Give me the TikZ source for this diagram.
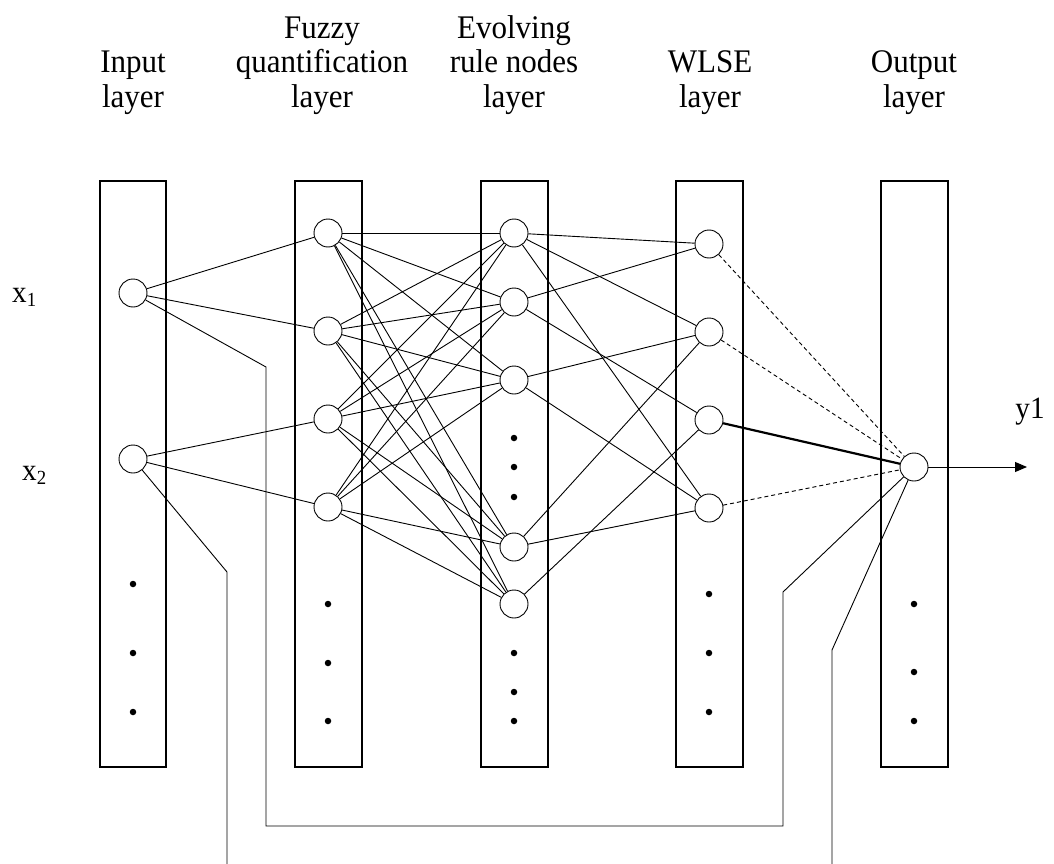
\documentclass[tikz,border=0pt]{standalone}
\usepackage{fontspec}
\setmainfont{Liberation Serif}
\newfontfamily\hdrfont[FakeStretch=0.94]{Liberation Serif}
\usetikzlibrary{arrows.meta}
\newcommand{\mysubs}[1]{\raisebox{-4.5pt}{\fontsize{20}{20}\selectfont #1}}
\tikzset{
  layerbox/.style={draw, line width=1.1pt},
  neuron/.style={draw, circle, minimum size=28pt, inner sep=0pt, line width=0.9pt, fill=white},
  dotmark/.style={fill, circle, inner sep=0pt, minimum size=6.5pt},
  conn/.style={line width=0.9pt},
  dashconn/.style={line width=0.9pt, dash pattern=on 4pt off 3pt},
  thickconn/.style={line width=2.2pt},
  hdr/.style={align=center, font=\hdrfont\fontsize{33}{35}\selectfont, inner sep=0pt},
  lbl/.style={font=\hdrfont\fontsize{31}{31}\selectfont, inner sep=0pt},
}
\begin{document}
\begin{tikzpicture}[x=1pt,y=-1pt]
\useasboundingbox (0,0) rectangle (1054,864);
% layer boxes
\draw[layerbox] (100,181) rectangle (166,767);
\draw[layerbox] (295,181) rectangle (362,767);
\draw[layerbox] (481,181) rectangle (548,767);
\draw[layerbox] (676,181) rectangle (743,767);
\draw[layerbox] (881,181) rectangle (948,767);
% headers (base anchor = baseline of last line)
\node[hdr, anchor=base] (hIn) at (133,108) {Input\\layer};
\node[hdr, anchor=base] (hFz) at (322,108) {Fuzzy\\quantification\\layer};
\node[hdr, anchor=base] (hEv) at (514,108) {Evolving\\rule nodes\\layer};
\node[hdr, anchor=base] (hWl) at (710,108) {WLSE\\layer};
\node[hdr, anchor=base] (hOu) at (914,108) {Output\\layer};
% feedback coordinates
\coordinate (fa1) at (266,367);
\coordinate (fa2) at (266,826);
\coordinate (fa3) at (783,826);
\coordinate (fa4) at (783,592);
\coordinate (fb1) at (227,572);
\coordinate (fb2) at (227,864);
\coordinate (fc1) at (832,650);
\coordinate (fc2) at (832,864);
% nodes
\node[neuron] (I1) at (133,293) {};
\node[neuron] (I2) at (133,459) {};
\node[neuron] (F1) at (328,233) {};
\node[neuron] (F2) at (328,331) {};
\node[neuron] (F3) at (328,419) {};
\node[neuron] (F4) at (328,507) {};
\node[neuron] (E1) at (514,233) {};
\node[neuron] (E2) at (514,302) {};
\node[neuron] (E3) at (514,380) {};
\node[neuron] (E4) at (514,547) {};
\node[neuron] (E5) at (514,604) {};
\node[neuron] (W1) at (709,244) {};
\node[neuron] (W2) at (709,332) {};
\node[neuron] (W3) at (709,420) {};
\node[neuron] (W4) at (709,508) {};
\node[neuron] (O) at (914,467) {};
% dots
\node[dotmark] (dI1) at (133,584) {};
\node[dotmark] (dI2) at (133,653) {};
\node[dotmark] (dI3) at (133,712) {};
\node[dotmark] (dF1) at (328,604) {};
\node[dotmark] (dF2) at (328,663) {};
\node[dotmark] (dF3) at (328,721) {};
\node[dotmark] (dE1) at (514,438) {};
\node[dotmark] (dE2) at (514,467) {};
\node[dotmark] (dE3) at (514,497) {};
\node[dotmark] (dE4) at (514,653) {};
\node[dotmark] (dE5) at (514,692) {};
\node[dotmark] (dE6) at (514,721) {};
\node[dotmark] (dW1) at (709,594) {};
\node[dotmark] (dW2) at (709,653) {};
\node[dotmark] (dW3) at (709,712) {};
\node[dotmark] (dO1) at (914,604) {};
\node[dotmark] (dO2) at (914,672) {};
\node[dotmark] (dO3) at (914,721) {};
% labels
\node[lbl, anchor=base west] (lx1) at (12,302) {x\mysubs{1}};
\node[lbl, anchor=base west] (lx2) at (22,480) {x\mysubs{2}};
\node[lbl, anchor=base] (ly1) at (1030,418) {y1};
\coordinate (yend) at (1027,467);
% feedback paths
\draw[conn] (I1) -- (fa1) -- (fa2) -- (fa3) -- (fa4) -- (O);
\draw[conn] (I2) -- (fb1) -- (fb2);
\draw[conn] (fc2) -- (fc1) -- (O);
% input -> fuzzy
\draw[conn] (I1) -- (F1);
\draw[conn] (I1) -- (F2);
\draw[conn] (I2) -- (F3);
\draw[conn] (I2) -- (F4);
% fuzzy -> evolving (full)
\foreach \f in {F1,F2,F3,F4}{
  \foreach \e in {E1,E2,E3,E4,E5}{
    \draw[conn] (\f) -- (\e);
  }
}
% evolving -> WLSE
\draw[conn] (E1) -- (W1);
\draw[conn] (E1) -- (W2);
\draw[conn] (E1) -- (W4);
\draw[conn] (E2) -- (W1);
\draw[conn] (E2) -- (W3);
\draw[conn] (E3) -- (W2);
\draw[conn] (E3) -- (W4);
\draw[conn] (E4) -- (W2);
\draw[conn] (E4) -- (W4);
\draw[conn] (E5) -- (W3);
% WLSE -> output
\draw[dashconn] (W1) -- (O);
\draw[dashconn] (W2) -- (O);
\draw[thickconn] (W3) -- (O);
\draw[dashconn] (W4) -- (O);
% output arrow
\draw[conn, -{Triangle[length=12pt,width=10pt]}] (O) -- (yend);
\end{tikzpicture}
\end{document}
